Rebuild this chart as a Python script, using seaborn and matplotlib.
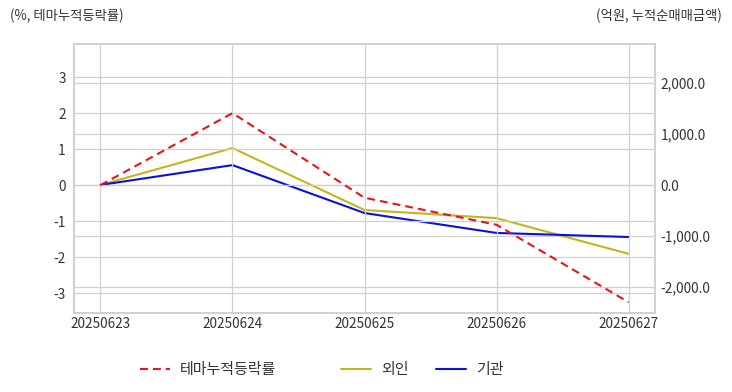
import numpy as np
import pandas as pd
import seaborn as sns
import matplotlib.pyplot as plt
from matplotlib.ticker import FuncFormatter

dates = ["20250623", "20250624", "20250625", "20250626", "20250627"]
theme_rate = [0.0, 2.0, -0.35, -1.1, -3.25]
foreign_amt = [0.0, 725.0, -490.0, -650.0, -1350.0]
inst_amt = [0.0, 390.0, -550.0, -940.0, -1020.0]

d = pd.DataFrame({"date": dates, "theme": theme_rate,
                  "foreign": foreign_amt, "inst": inst_amt})
d["pos"] = np.arange(len(d))

sns.set_style("white")
plt.rcParams["font.family"] = ["Noto Sans CJK KR", "DejaVu Sans"]
plt.rcParams["axes.unicode_minus"] = False

grid_c = "#d0d0d0"
txt_c = "#333333"

fig = plt.figure(figsize=(7.32, 3.92), dpi=100)
ax = fig.add_axes([74 / 732, 1 - 313 / 392, 581 / 732, 269 / 392])
ax2 = ax.twinx()

sns.lineplot(ax=ax, data=d, x="pos", y="theme", color="#e8141c",
             linestyle=(0, (3.8, 2.4)), linewidth=1.5, label="테마누적등락률", legend=False)
sns.lineplot(ax=ax2, data=d, x="pos", y="foreign", color="#c2b61c",
             linewidth=1.5, label="외인", legend=False)
sns.lineplot(ax=ax2, data=d, x="pos", y="inst", color="#0b12d6",
             linewidth=1.5, label="기관", legend=False)

ax.set_xlim(-0.2, 4.2)
ax.set_ylim(-3.55, 3.92)
ax2.set_ylim(-2510, 2765)
ax.set_yticks([-3, -2, -1, 0, 1, 2, 3])
ax2.set_yticks([-2000, -1000, 0, 1000, 2000])
ax2.yaxis.set_major_formatter(FuncFormatter(lambda v, p: f"{v:,.1f}"))
ax.set_xticks(d["pos"])
ax.set_xticklabels(dates)

for a in (ax, ax2):
    a.grid(True, axis="y", color=grid_c, linewidth=0.9)
    a.set_xlabel("")
    a.set_ylabel("")
    a.tick_params(length=0, labelsize=9.8, colors=txt_c, pad=6)
    for s in a.spines.values():
        s.set_color(grid_c)
        s.set_linewidth(1.2)
ax.grid(True, axis="x", color=grid_c, linewidth=0.9)
ax.tick_params(axis="x", pad=3)
ax2.tick_params(axis="y", pad=4)
ax.set_axisbelow(True)
# red line drawn above the twin axis gridlines
ax.set_zorder(ax2.get_zorder() + 1)
ax.patch.set_visible(False)

fig.text(10 / 732, 1 - 16 / 392, "(%, 테마누적등락률)", fontsize=9.6, color=txt_c, va="center")
fig.text(722 / 732, 1 - 16 / 392, "(억원, 누적순매매금액)", fontsize=9.6, color=txt_c,
         va="center", ha="right")

h1, l1 = ax.get_legend_handles_labels()
h2, l2 = ax2.get_legend_handles_labels()
starts = [140, 341, 436]
for h, l, x0 in zip(h1 + h2, l1 + l2, starts):
    fig.legend([h], [l], loc="center left", bbox_to_anchor=(x0 / 732, 1 - 370 / 392),
               frameon=False, fontsize=10.8, handlelength=2.0, handletextpad=0.65,
               borderpad=0, borderaxespad=0, labelcolor=txt_c)

fig.savefig("out.png", dpi=100, facecolor="white")
